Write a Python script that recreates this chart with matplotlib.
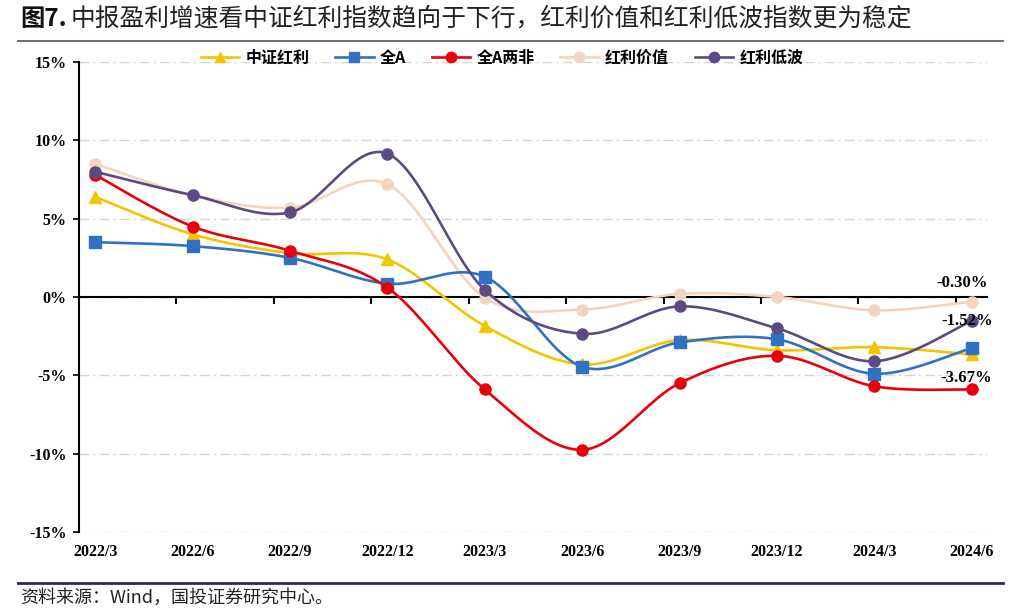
import numpy as np
import matplotlib
matplotlib.use("Agg")
import matplotlib.pyplot as plt
from matplotlib.lines import Line2D

plt.rcParams['font.family'] = ['Noto Sans CJK SC', 'DejaVu Sans']

# ---- data ----
periods = ["2022/3", "2022/6", "2022/9", "2022/12", "2023/3",
           "2023/6", "2023/9", "2023/12", "2024/3", "2024/6"]
zz_hongli = [6.4, 4.0, 2.8, 2.4, -1.85, -4.3, -2.75, -3.4, -3.2, -3.67]
quan_a = [3.5, 3.25, 2.5, 0.85, 1.3, -4.45, -2.9, -2.7, -4.9, -3.25]
quan_a_liangfei = [7.8, 4.5, 2.95, 0.6, -5.9, -9.75, -5.5, -3.75, -5.7, -5.9]
hongli_jiazhi = [8.5, 6.5, 5.7, 7.2, -0.05, -0.8, 0.2, 0.0, -0.85, -0.30]
hongli_dibo = [8.0, 6.5, 5.4, 9.15, 0.45, -2.35, -0.6, -2.0, -4.1, -1.52]

series = [
    ("中证红利", zz_hongli, "#f2c500", "^", 3),
    ("全A", quan_a, "#2f72c4", "s", 4),
    ("全A两非", quan_a_liangfei, "#e8000b", "o", 5),
    ("红利价值", hongli_jiazhi, "#f3d5bd", "o", 2),
    ("红利低波", hongli_dibo, "#5c4b82", "o", 6),
]


def smooth(x, y, n=40):
    # Excel-style smoothed line: cubic Bezier with Catmull-Rom control points
    x = np.asarray(x, float)
    y = np.asarray(y, float)
    pts = np.column_stack([x, y])
    out = []
    for i in range(len(pts) - 1):
        p0 = pts[max(i - 1, 0)]
        p1 = pts[i]
        p2 = pts[i + 1]
        p3 = pts[min(i + 2, len(pts) - 1)]
        c1 = p1 + (p2 - p0) / 6.0
        c2 = p2 - (p3 - p1) / 6.0
        t = np.linspace(0, 1, n)[:, None]
        seg = ((1 - t) ** 3) * p1 + 3 * ((1 - t) ** 2) * t * c1 + 3 * (1 - t) * t ** 2 * c2 + t ** 3 * p2
        out.append(seg if i == 0 else seg[1:])
    out = np.vstack(out)
    return out[:, 0], out[:, 1]


W, H = 1024, 612
fig = plt.figure(figsize=(W / 100, H / 100), dpi=100)
ax = fig.add_axes([79 / W, 1 - 532 / H, (987 - 79) / W, (532 - 62) / H])

xs = np.arange(len(periods))
handles = []
for name, vals, col, mk, z in series:
    sx, sy = smooth(xs, vals)
    ax.plot(sx, sy, color=col, lw=1.9, zorder=z, solid_capstyle="round")
    ax.plot(xs, vals, ls="none", marker=mk, ms=8, color=col, mec=col, zorder=z + 0.5)
    handles.append(Line2D([0], [0], color=col, lw=1.9, marker=mk, ms=7.5, mec=col))

ax.set_xlim(-0.165, len(periods) - 1 + 0.155)
ax.set_ylim(-15, 15)
ax.set_yticks(np.arange(-15, 16, 5))
ax.set_yticklabels([f"{v}%" for v in range(-15, 16, 5)],
                   family="Liberation Serif", fontweight="bold", fontsize=11.5)
ax.yaxis.grid(True, color="#d4d4d4", lw=1.0, dashes=(7, 3, 1.5, 3))
ax.set_axisbelow(True)

for s in ["top", "right"]:
    ax.spines[s].set_visible(False)
ax.spines["left"].set_linewidth(1.5)
ax.spines["bottom"].set_position(("data", 0))
ax.spines["bottom"].set_linewidth(1.5)
ax.spines["bottom"].set_zorder(1.5)
ax.tick_params(axis="y", length=4, width=1.2, pad=5)

# category axis on the zero line: ticks between categories, labels at the bottom
ax.set_xticks(xs)
ax.tick_params(axis="x", which="major", length=0, labelbottom=False)
ax.set_xticks(xs[1:] - 0.165, minor=True)
ax.tick_params(axis="x", which="minor", length=5, width=1.5, direction="out")

sec = ax.secondary_xaxis("bottom")
sec.set_xticks(xs)
sec.set_xticklabels(periods, family="Liberation Serif", fontweight="bold", fontsize=11.5)
sec.tick_params(length=0, pad=9)
sec.spines["bottom"].set_visible(False)

# data labels at the last point
last = len(periods) - 1
lab = dict(textcoords="offset pixels", ha="center", va="center", family="Liberation Serif",
           fontweight="bold", fontsize=12, zorder=8)
ax.annotate(f"{hongli_jiazhi[-1]:.2f}%", (last, hongli_jiazhi[-1]), xytext=(-10, 19), **lab)
ax.annotate(f"{hongli_dibo[-1]:.2f}%", (last, hongli_dibo[-1]), xytext=(-5, 0), **lab)
ax.annotate(f"{zz_hongli[-1]:.2f}%", (last, zz_hongli[-1]), xytext=(-6, -24), **lab)

leg = ax.legend(handles, [s[0] for s in series], ncol=5, frameon=False,
                loc="center", bbox_to_anchor=(0.466, 1.009),
                prop={"weight": "bold", "size": 11.5}, handlelength=2.4,
                handletextpad=0.4, columnspacing=1.6)

# title, rules and source
fig.text(20 / W, 1 - 19 / H, "图7.", fontsize=17.5, fontweight="bold", color="#111111",
         va="center", ha="left")
fig.text(71 / W, 1 - 19 / H, "中报盈利增速看中证红利指数趋向于下行，红利价值和红利低波指数更为稳定",
         fontsize=17.8, color="#222222", va="center", ha="left")
fig.add_artist(Line2D([18 / W, 1003 / W], [1 - 41 / H] * 2, color="#5b5d7e", lw=1.3))
fig.add_artist(Line2D([18 / W, 1003 / W], [1 - 583 / H] * 2, color="#2a2d55", lw=2.0))
fig.text(20 / W, 1 - 598 / H, "资料来源：Wind，国投证券研究中心。", fontsize=13,
         color="#222222", va="center", ha="left", style="italic")

fig.savefig("out.png", dpi=100)
